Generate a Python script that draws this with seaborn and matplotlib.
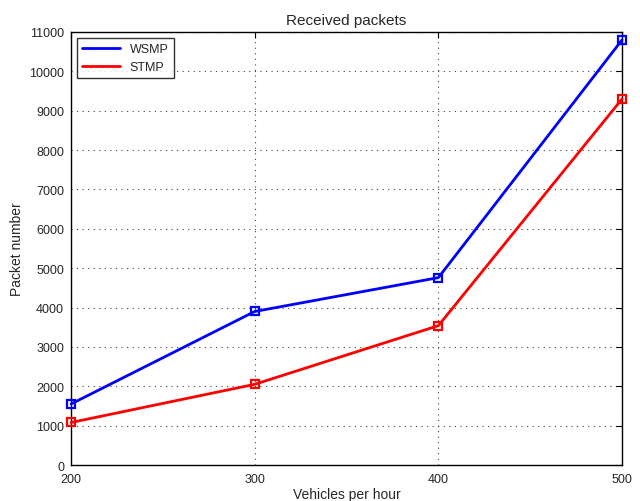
import matplotlib
matplotlib.use('Agg')
import matplotlib.pyplot as plt
import seaborn as sns
import pandas as pd

# Datos
vehiculos = [200, 300, 400, 500]
wsmp = [1550, 3900, 4760, 10800]
stmp = [1080, 2050, 3540, 9300]

df = pd.DataFrame({'Vehicles': vehiculos * 2,
                   'Packets': wsmp + stmp,
                   'Protocol': ['WSMP'] * 4 + ['STMP'] * 4})

sns.set_style('white')
plt.rcParams['font.family'] = ['Liberation Sans', 'DejaVu Sans']

fig = plt.figure(figsize=(6.4, 5.02), dpi=100)
ax = fig.add_axes([0.111, 0.0717, 0.861, 0.8626])

sns.lineplot(data=df, x='Vehicles', y='Packets', hue='Protocol',
             palette={'WSMP': '#0000ff', 'STMP': '#ff0000'},
             marker='s', markersize=6, linewidth=2, ax=ax)

# Marcadores cuadrados huecos del mismo color que la línea, sin recortar en los bordes
for ln in ax.get_lines():
    c = ln.get_color()
    ln.set_markerfacecolor('none')
    ln.set_markeredgecolor(c)
    ln.set_markeredgewidth(1.6)
    ln.set_clip_on(False)
    ln.set_zorder(5)

ax.set_xlim(200, 500)
ax.set_ylim(0, 11000)
ax.set_xticks(vehiculos)
ax.set_yticks(range(0, 11001, 1000))
ax.grid(True, linestyle=(0, (1, 4)), color='#444444', linewidth=0.8)
ax.tick_params(direction='in', top=True, right=True, labelsize=9, length=4,
               color='black')
ax.tick_params(axis='y', pad=5)
ax.tick_params(axis='x', pad=6)
for s in ax.spines.values():
    s.set_color('black')
    s.set_linewidth(1)

ax.set_title('Received packets', fontsize=11)
ax.set_xlabel('Vehicles per hour', fontsize=10, labelpad=1)
ax.set_ylabel('Packet number', fontsize=10)

leg = ax.legend(loc='upper left', fontsize=9, frameon=True, fancybox=False,
                edgecolor='black', handlelength=3, borderaxespad=0.5)
leg.get_frame().set_linewidth(1)
for h in leg.get_lines():
    h.set_marker('')

fig.savefig('out.png', dpi=100)
